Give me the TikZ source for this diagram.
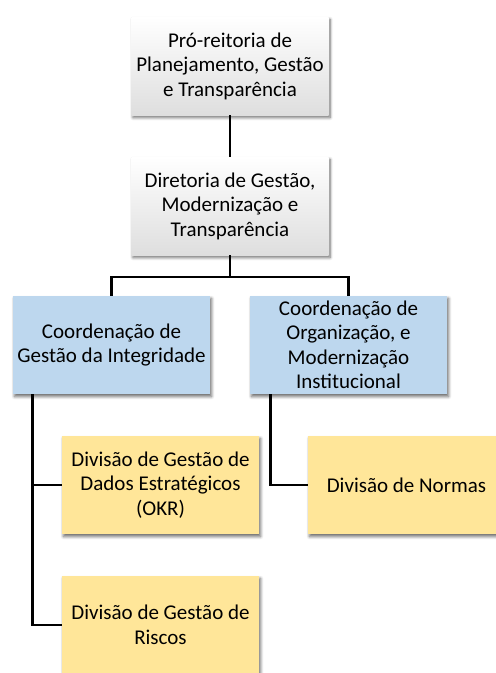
\documentclass[tikz,border=0pt]{standalone}
\usepackage{fontspec}
\setmainfont{Carlito}
\usetikzlibrary{shadows.blur}
\tikzset{
  box/.style={minimum width=197pt, minimum height=98pt, inner sep=0pt, align=center,
    font=\fontsize{21}{24.5}\selectfont,
    blur shadow={shadow xshift=1.5pt, shadow yshift=-2.5pt, shadow blur steps=6, shadow opacity=60, shadow blur radius=3pt}},
  graybox/.style={box, top color=white, bottom color=black!13},
  bluebox/.style={box, fill=blue1},
  yellowbox/.style={box, fill=yellow1},
  link/.style={draw=black, line width=2.8pt}
}
\definecolor{blue1}{HTML}{BDD7EE}
\definecolor{yellow1}{HTML}{FFE699}
\begin{document}
\begin{tikzpicture}[x=1pt,y=-1pt]
\useasboundingbox (0,0) rectangle (496,673);
\node[graybox] (top) at (230,66) {Pró-reitoria de\\Planejamento, Gestão\\e Transparência};
\node[graybox] (dir) at (230,206) {Diretoria de Gestão,\\Modernização e\\Transparência};
\node[bluebox] (cgi) at (111.5,345) {Coordenação de\\Gestão da Integridade};
\node[bluebox] (coi) at (348.5,345) {Coordenação de\\Organização, e\\Modernização\\Institucional};
\node[yellowbox] (dad) at (160.5,485) {Divisão de Gestão de\\Dados Estratégicos\\(OKR)};
\node[yellowbox] (nor) at (406.5,485) {Divisão de Normas};
\node[yellowbox] (ris) at (160.5,625) {Divisão de Gestão de\\Riscos};
\coordinate (bus) at (230,277);
\draw[link] (top.south) -- (dir.north);
\draw[link] (dir.south) -- (bus);
\draw[link] (cgi.north) |- (bus) -| (coi.north);
\coordinate (ls) at ([xshift=20pt]cgi.south west);
\coordinate (rs) at ([xshift=21pt]coi.south west);
\draw[link] (ls) |- (dad.west);
\draw[link] (ls) |- (ris.west);
\draw[link] (rs) |- (nor.west);
\end{tikzpicture}
\end{document}
